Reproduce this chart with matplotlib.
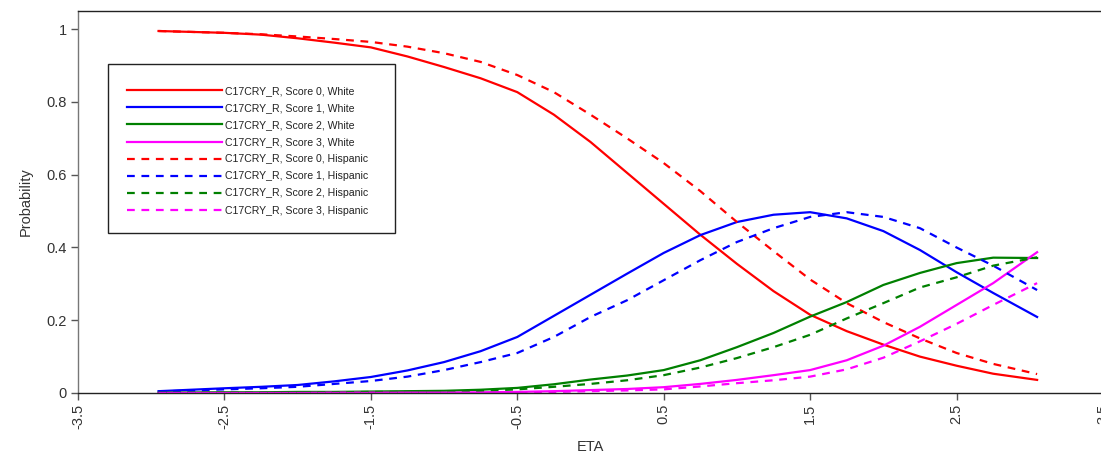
import numpy as np
import matplotlib

matplotlib.use("Agg", force=True)
import matplotlib.pyplot as plt
from matplotlib.patches import Rectangle

plt.rcParams["font.family"] = ["Liberation Sans", "DejaVu Sans"]

# ETA grid
eta = [-2.95, -2.5, -2.25, -2.0, -1.75, -1.5, -1.25, -1.0, -0.75, -0.5, -0.25, 0.0,
       0.25, 0.5, 0.75, 1.0, 1.25, 1.5, 1.75, 2.0, 2.25, 2.5, 2.75, 3.05]

score0_white = [0.995, 0.99, 0.985, 0.975, 0.963, 0.95, 0.925, 0.896, 0.865, 0.827, 0.765, 0.69,
                0.605, 0.52, 0.435, 0.355, 0.28, 0.215, 0.17, 0.133, 0.1, 0.075, 0.053, 0.036]
score1_white = [0.005, 0.013, 0.017, 0.022, 0.032, 0.044, 0.062, 0.085, 0.115, 0.154, 0.212, 0.27,
                0.328, 0.385, 0.434, 0.47, 0.49, 0.497, 0.48, 0.445, 0.393, 0.332, 0.275, 0.209]
score2_white = [0.001, 0.002, 0.002, 0.003, 0.003, 0.004, 0.005, 0.006, 0.009, 0.014, 0.024, 0.037,
                0.048, 0.063, 0.09, 0.126, 0.165, 0.21, 0.25, 0.297, 0.33, 0.357, 0.372, 0.371]
score3_white = [0.0, 0.0, 0.0, 0.0, 0.001, 0.001, 0.001, 0.001, 0.002, 0.003, 0.005, 0.008,
                0.011, 0.016, 0.025, 0.036, 0.049, 0.063, 0.09, 0.13, 0.182, 0.242, 0.302, 0.387]

score0_hisp = [0.995, 0.99, 0.986, 0.98, 0.973, 0.965, 0.952, 0.934, 0.91, 0.874, 0.827, 0.765,
               0.70, 0.632, 0.555, 0.47, 0.39, 0.312, 0.247, 0.195, 0.15, 0.11, 0.08, 0.052]
score1_hisp = [0.004, 0.01, 0.013, 0.017, 0.025, 0.033, 0.045, 0.063, 0.085, 0.11, 0.154, 0.209,
               0.255, 0.31, 0.365, 0.415, 0.453, 0.484, 0.497, 0.484, 0.453, 0.40, 0.35, 0.283]
score2_hisp = [0.001, 0.001, 0.001, 0.002, 0.002, 0.003, 0.003, 0.004, 0.006, 0.01, 0.017, 0.025,
               0.035, 0.049, 0.07, 0.096, 0.126, 0.16, 0.205, 0.247, 0.29, 0.318, 0.35, 0.373]
score3_hisp = [0.0, 0.0, 0.0, 0.0, 0.0, 0.0, 0.001, 0.001, 0.001, 0.002, 0.003, 0.005,
               0.007, 0.01, 0.018, 0.027, 0.035, 0.045, 0.065, 0.097, 0.142, 0.19, 0.242, 0.302]

colors = ["#ff0000", "#0000ff", "#008000", "#ff00ff"]
white = [score0_white, score1_white, score2_white, score3_white]
hisp = [score0_hisp, score1_hisp, score2_hisp, score3_hisp]

W, H = 1101, 457
fig = plt.figure(figsize=(W / 100, H / 100), dpi=100)
ax = fig.add_axes([78 / W, 64 / H, 1025 / W, 382 / H])

for k, (vals, c) in enumerate(zip(white, colors)):
    ax.plot(eta, vals, color=c, lw=1.6, label=f"C17CRY_R, Score {k}, White")
for k, (vals, c) in enumerate(zip(hisp, colors)):
    ax.plot(eta, vals, color=c, lw=1.6, ls=(0, (3.5, 3)), label=f"C17CRY_R, Score {k}, Hispanic")

ax.set_xlim(-3.5, 3.5)
ax.set_ylim(0, 1.05)
xt = np.arange(-3.5, 3.6, 1.0)
ax.set_xticks(xt)
ax.set_xticklabels([f"{v:g}" for v in xt], rotation=90)
ax.set_yticks([0, 0.2, 0.4, 0.6, 0.8, 1.0])
ax.set_yticklabels(["0", "0.2", "0.4", "0.6", "0.8", "1"])
ax.tick_params(direction="out", length=5, width=1, colors="#555555",
               labelcolor="#333333", labelsize=10.5, pad=3)
for s in ax.spines.values():
    s.set_color("#222222")
    s.set_linewidth(1)
ax.spines["left"].set_color("#777777")

ax.set_xlabel("ETA", fontsize=10.5, color="#333333", labelpad=8)
ax.set_ylabel("Probability", fontsize=10.5, color="#333333", labelpad=10)

# legend frame drawn by hand so the box matches the original size
box = Rectangle((108 / W, 1 - 233 / H), 287 / W, 169 / H, transform=fig.transFigure,
                facecolor="white", edgecolor="#222222", lw=1, zorder=4, clip_on=False)
ax.add_patch(box)
leg = ax.legend(loc="upper left", bbox_to_anchor=(127 / W, 1 - 86 / H),
                bbox_transform=fig.transFigure, fontsize=7.6, frameon=False,
                handlelength=9.0, handletextpad=0.25, labelspacing=0.67,
                borderpad=0, borderaxespad=0)
leg.set_zorder(5)
for t in leg.get_texts():
    t.set_color("#222222")

fig.savefig("out.png", dpi=100)
